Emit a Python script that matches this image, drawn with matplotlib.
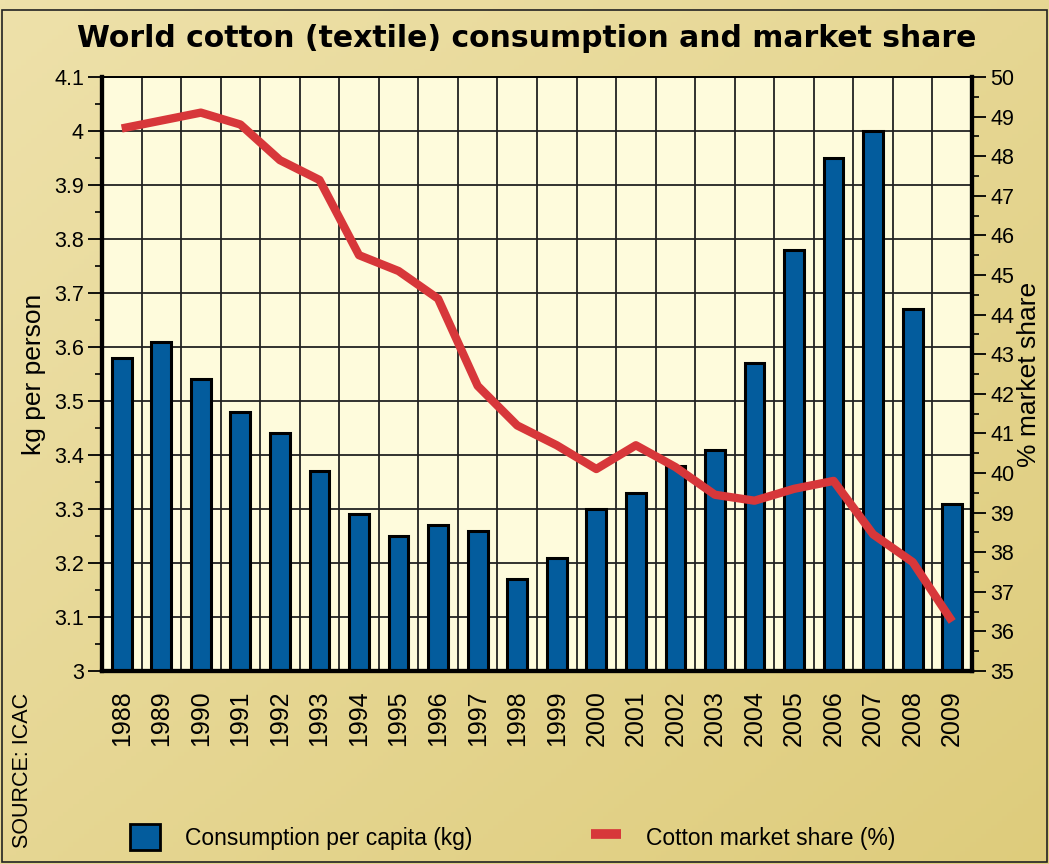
import numpy as np
import matplotlib.pyplot as plt
from matplotlib.patches import Rectangle
from matplotlib.lines import Line2D
from matplotlib.ticker import MultipleLocator

# =========================
# DONNÉES
# =========================

years = [str(y) for y in range(1988, 2010)]
consumption = [3.58, 3.61, 3.54, 3.48, 3.44, 3.37, 3.29, 3.25, 3.27, 3.26, 3.17,
               3.21, 3.30, 3.33, 3.38, 3.41, 3.57, 3.78, 3.95, 4.00, 3.67, 3.31]
market_share = [48.7, 48.9, 49.1, 48.8, 47.9, 47.4, 45.5, 45.1, 44.4, 42.2, 41.2,
                40.7, 40.1, 40.7, 40.15, 39.45, 39.3, 39.6, 39.8, 38.45, 37.75, 36.25]

BLUE = "#035c9d"
RED = "#d7373a"
PLOT_BG = "#fefbdc"
FONT = "Liberation Sans"

plt.rcParams["font.family"] = FONT

fig = plt.figure(figsize=(10.49, 8.64), dpi=100)

# fond dégradé
bg = fig.add_axes([0, 0, 1, 1], zorder=-10)
xx, yy = np.meshgrid(np.linspace(0, 1, 200), np.linspace(0, 1, 200))
t = (xx + yy) / 2
c0 = np.array([238, 225, 170]) / 255
c1 = np.array([222, 204, 124]) / 255
img = c0[None, None, :] * (1 - t[..., None]) + c1[None, None, :] * t[..., None]
bg.imshow(img, extent=[0, 1, 0, 1], aspect="auto", origin="upper")
bg.set_axis_off()
bg.add_patch(Rectangle((0.002, 0.002), 0.996, 0.986, fill=False, ec="#222222",
                       lw=1.2, transform=bg.transAxes))

# =========================
# AXE PRINCIPAL
# =========================

ax = fig.add_axes([0.0972, 0.2234, 0.8294, 0.6875])
ax.set_facecolor(PLOT_BG)
x = np.arange(len(years))
ax.bar(x, consumption, width=0.5, color=BLUE, edgecolor="black", linewidth=2.2, zorder=3)
ax.set_xlim(-0.5, len(years) - 0.5)
ax.set_ylim(3.0, 4.1)
ax.yaxis.set_major_locator(MultipleLocator(0.1))
ax.yaxis.set_minor_locator(MultipleLocator(0.05))
ax.set_yticks(np.arange(3.0, 4.101, 0.1))
ax.set_yticklabels(["3", "3.1", "3.2", "3.3", "3.4", "3.5", "3.6", "3.7", "3.8", "3.9", "4", "4.1"])
ax.set_xticks(x)
ax.set_xticklabels(years, rotation=90, fontsize=18)
ax.set_xticks(x[:-1] + 0.5, minor=True)
ax.tick_params(axis="x", which="both", length=0, pad=14)
ax.tick_params(axis="y", which="major", length=10, width=1.3, labelsize=15.5, pad=3)
ax.tick_params(axis="y", which="minor", length=5, width=1.2)
ax.grid(True, axis="y", which="major", color="#222222", lw=1.3, zorder=1)
ax.grid(True, axis="x", which="minor", color="#222222", lw=1.3, zorder=1)
ax.set_ylabel("kg per person", fontsize=19, labelpad=6)
for side in ["left", "bottom", "right"]:
    ax.spines[side].set_linewidth(3)
ax.spines["top"].set_linewidth(1.3)

# =========================
# AXE SECONDAIRE
# =========================

ax2 = ax.twinx()
ax2.plot(x, market_share, color=RED, lw=6, solid_capstyle="butt", zorder=5)
ax2.set_ylim(35, 50)
ax2.yaxis.set_major_locator(MultipleLocator(1))
ax2.yaxis.set_minor_locator(MultipleLocator(0.5))
ax2.tick_params(axis="y", which="major", length=10, width=1.3, labelsize=15.5, pad=3)
ax2.tick_params(axis="y", which="minor", length=5, width=1.2)
ax2.set_ylabel("% market share", fontsize=19, labelpad=2)
ax2.spines["right"].set_linewidth(3)
ax2.spines["left"].set_linewidth(3)
ax2.spines["bottom"].set_linewidth(3)
ax2.spines["top"].set_linewidth(1.3)

# =========================
# TEXTES
# =========================

fig.text(0.5025, 0.955, "World cotton (textile) consumption and market share",
         ha="center", va="center", fontsize=21.5, fontweight="heavy",
         family="DejaVu Sans")
fig.text(0.021, 0.108, "SOURCE: ICAC", rotation=90, ha="center", va="center", fontsize=15.5)

handles = [Rectangle((0, 0), 1, 1, facecolor=BLUE, edgecolor="black", lw=2),
           Line2D([0], [0], color=RED, lw=7, solid_capstyle="butt")]
fig.legend(handles, ["Consumption per capita (kg)", "Cotton market share (%)"],
           loc="center left", bbox_to_anchor=(0.104, 0.031), ncol=2, frameon=False,
           fontsize=16.5, handlelength=1.3, handleheight=1.4, columnspacing=5.2,
           handletextpad=1.1)

plt.savefig("out.png", dpi=100)
